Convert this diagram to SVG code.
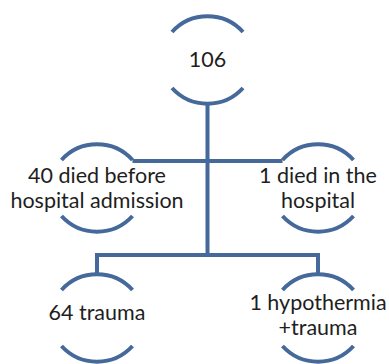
<svg xmlns="http://www.w3.org/2000/svg" width="389" height="364" viewBox="0 0 389 364">
<style>
.arc{fill:none;stroke:#44699a;stroke-width:4;stroke-linecap:butt}
.con{fill:none;stroke:#44699a;stroke-width:4}
text{font-family:Lato,"Open Sans","Liberation Sans",sans-serif;font-size:21.5px;fill:#1e1e1e;text-anchor:middle}
</style>
<rect width="389" height="364" fill="#ffffff"/>
<g id="connectors">
<path class="con" d="M207.5,103 V255"/>
<path class="con" d="M132.5,161 H282.5"/>
<path class="con" d="M97,274 V255 H318 V274"/>
</g>
<g id="n106">
<path class="arc" d="M172,32 A48,48 0 0,1 243,32"/>
<path class="arc" d="M172,88 A48,48 0 0,0 243,88"/>
<text x="207.5" y="67">106</text>
</g>
<g id="nBefore">
<path class="arc" d="M61.5,160 A48,48 0 0,1 132.5,160"/>
<path class="arc" d="M61.5,216 A48,48 0 0,0 132.5,216"/>
<text x="97" y="183">40 died before</text>
<text x="97" y="208">hospital admission</text>
</g>
<g id="nHospital">
<path class="arc" d="M282.5,160 A48,48 0 0,1 353.5,160"/>
<path class="arc" d="M282.5,216 A48,48 0 0,0 353.5,216"/>
<text x="318" y="183">1 died in the</text>
<text x="318" y="208">hospital</text>
</g>
<g id="nTrauma">
<path class="arc" d="M61.5,290 A48,48 0 0,1 132.5,290"/>
<path class="arc" d="M61.5,346 A48,48 0 0,0 132.5,346"/>
<text x="97" y="320">64 trauma</text>
</g>
<g id="nHypo">
<path class="arc" d="M282.5,290 A48,48 0 0,1 353.5,290"/>
<path class="arc" d="M282.5,346 A48,48 0 0,0 353.5,346"/>
<text x="318" y="310">1 hypothermia</text>
<text x="318" y="335">+trauma</text>
</g>
</svg>
